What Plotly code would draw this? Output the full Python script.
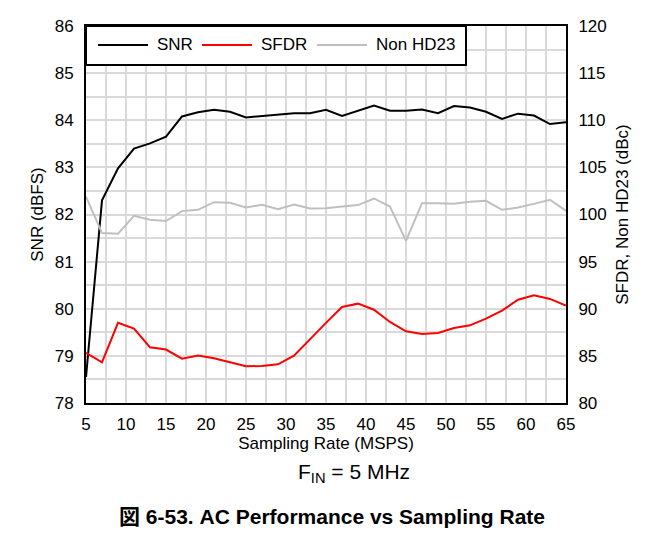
import plotly.graph_objects as go

rate = [5, 7, 9, 11, 13, 15, 17, 19, 21, 23, 25, 27, 29, 31, 33, 35,
        37, 39, 41, 43, 45, 47, 49, 51, 53, 55, 57, 59, 61, 63, 65]
snr = [78.55, 82.30, 82.98, 83.40, 83.51, 83.65, 84.08, 84.17, 84.22, 84.18, 84.06,
       84.09, 84.11, 84.15, 84.15, 84.22, 84.09, 84.20, 84.31, 84.20, 84.20, 84.23,
       84.15, 84.30, 84.27, 84.18, 84.03, 84.14, 84.10, 83.92, 83.96]
sfdr = [85.32, 84.32, 88.50, 87.89, 85.91, 85.67, 84.71, 85.03, 84.75, 84.36, 83.90,
        83.92, 84.11, 85.03, 86.80, 88.50, 90.19, 90.54, 89.90, 88.60, 87.61, 87.33,
        87.43, 87.96, 88.24, 88.95, 89.80, 90.96, 91.42, 91.04, 90.33]
nonhd23 = [101.9, 98.03, 97.96, 99.86, 99.44, 99.30, 100.36, 100.50, 101.31, 101.24,
           100.74, 101.03, 100.57, 101.06, 100.64, 100.67, 100.85, 101.0, 101.7, 100.85,
           97.21, 101.2, 101.2, 101.13, 101.34, 101.45, 100.5, 100.74, 101.13, 101.56, 100.39]

names = ["SNR", "SFDR", "Non HD23"]
colors = ["#000000", "#ff0000", "#bfbfbf"]

FONT = "Liberation Sans, Arial, Noto Sans CJK JP, sans-serif"

fig = go.Figure()
fig.add_trace(go.Scatter(x=rate, y=snr, mode="lines", name=names[0],
                         line=dict(color=colors[0], width=2), yaxis="y"))
fig.add_trace(go.Scatter(x=rate, y=sfdr, mode="lines", name=names[1],
                         line=dict(color=colors[1], width=2), yaxis="y2"))
fig.add_trace(go.Scatter(x=rate, y=nonhd23, mode="lines", name=names[2],
                         line=dict(color=colors[2], width=2), yaxis="y2"))

OFF = 8  # page body margin
W, H = 664, 536
L, T = 86 - OFF, 26 - OFF
pw, ph = 480, 377.5
R, B = W - L - pw, H - T - ph

def px(xp):
    return (xp - OFF - L) / pw

def py(yp):
    return 1 - (yp - OFF - T) / ph

shapes = []
annotations = []
# legend box
shapes.append(dict(type="rect", xref="paper", yref="paper", x0=px(86), x1=px(466),
                   y0=py(65), y1=py(26), fillcolor="white",
                   line=dict(color="black", width=2), layer="above"))
leg_x = [98, 202, 317]
for i, n in enumerate(names):
    shapes.append(dict(type="line", xref="paper", yref="paper",
                       x0=px(leg_x[i]), x1=px(leg_x[i] + 50), y0=py(45), y1=py(45),
                       line=dict(color=colors[i], width=2), layer="above"))
    annotations.append(dict(text=n, xref="paper", yref="paper", x=px(leg_x[i] + 57),
                            y=py(45), xanchor="left", yanchor="middle", showarrow=False,
                            font=dict(size=17, color="black", family=FONT)))

annotations.append(dict(text="F<sub>IN</sub> = 5 MHz", xref="paper", yref="paper",
                        x=px(354), y=py(474), xanchor="center", yanchor="middle",
                        showarrow=False, font=dict(size=21, color="black", family=FONT)))
annotations.append(dict(text="<b>図 6-53. AC Performance vs Sampling Rate</b>",
                        xref="paper", yref="paper", x=px(332), y=py(517),
                        xanchor="center", yanchor="middle", showarrow=False,
                        font=dict(size=21, color="black", family=FONT)))

grid = "#d9d9d9"
fig.update_layout(
    width=W, height=H, autosize=False,
    margin=dict(l=L, r=R, t=T, b=B),
    paper_bgcolor="white", plot_bgcolor="white",
    showlegend=False,
    font=dict(family=FONT, size=17, color="black"),
    xaxis=dict(range=[5, 65], dtick=5, tick0=5, showgrid=True, gridcolor=grid, gridwidth=1.5,
               minor=dict(dtick=2.5, tick0=5, showgrid=True, gridcolor=grid, gridwidth=1.5),
               showline=True, linecolor="black", linewidth=2, mirror=True,
               ticks="", ticklabelstandoff=5, zeroline=False, automargin=False,
               title=dict(text="Sampling Rate (MSPS)", standoff=0, font=dict(size=17))),
    yaxis=dict(range=[78, 86], dtick=1, showgrid=True, gridcolor=grid, gridwidth=1.5,
               minor=dict(dtick=0.5, showgrid=True, gridcolor=grid, gridwidth=1.5),
               showline=True, linecolor="black", linewidth=2, mirror=True,
               ticks="", ticklabelstandoff=7, zeroline=False, automargin=False,
               title=dict(text="SNR (dBFS)", standoff=7, font=dict(size=17))),
    yaxis2=dict(range=[80, 120], dtick=5, overlaying="y", side="right", showgrid=False,
                showline=True, linecolor="black", linewidth=2, automargin=False,
                ticks="", ticklabelstandoff=7, zeroline=False,
                title=dict(text="SFDR, Non HD23 (dBc)", standoff=10, font=dict(size=17))),
    shapes=shapes, annotations=annotations,
)

fig.write_html("out.html")
